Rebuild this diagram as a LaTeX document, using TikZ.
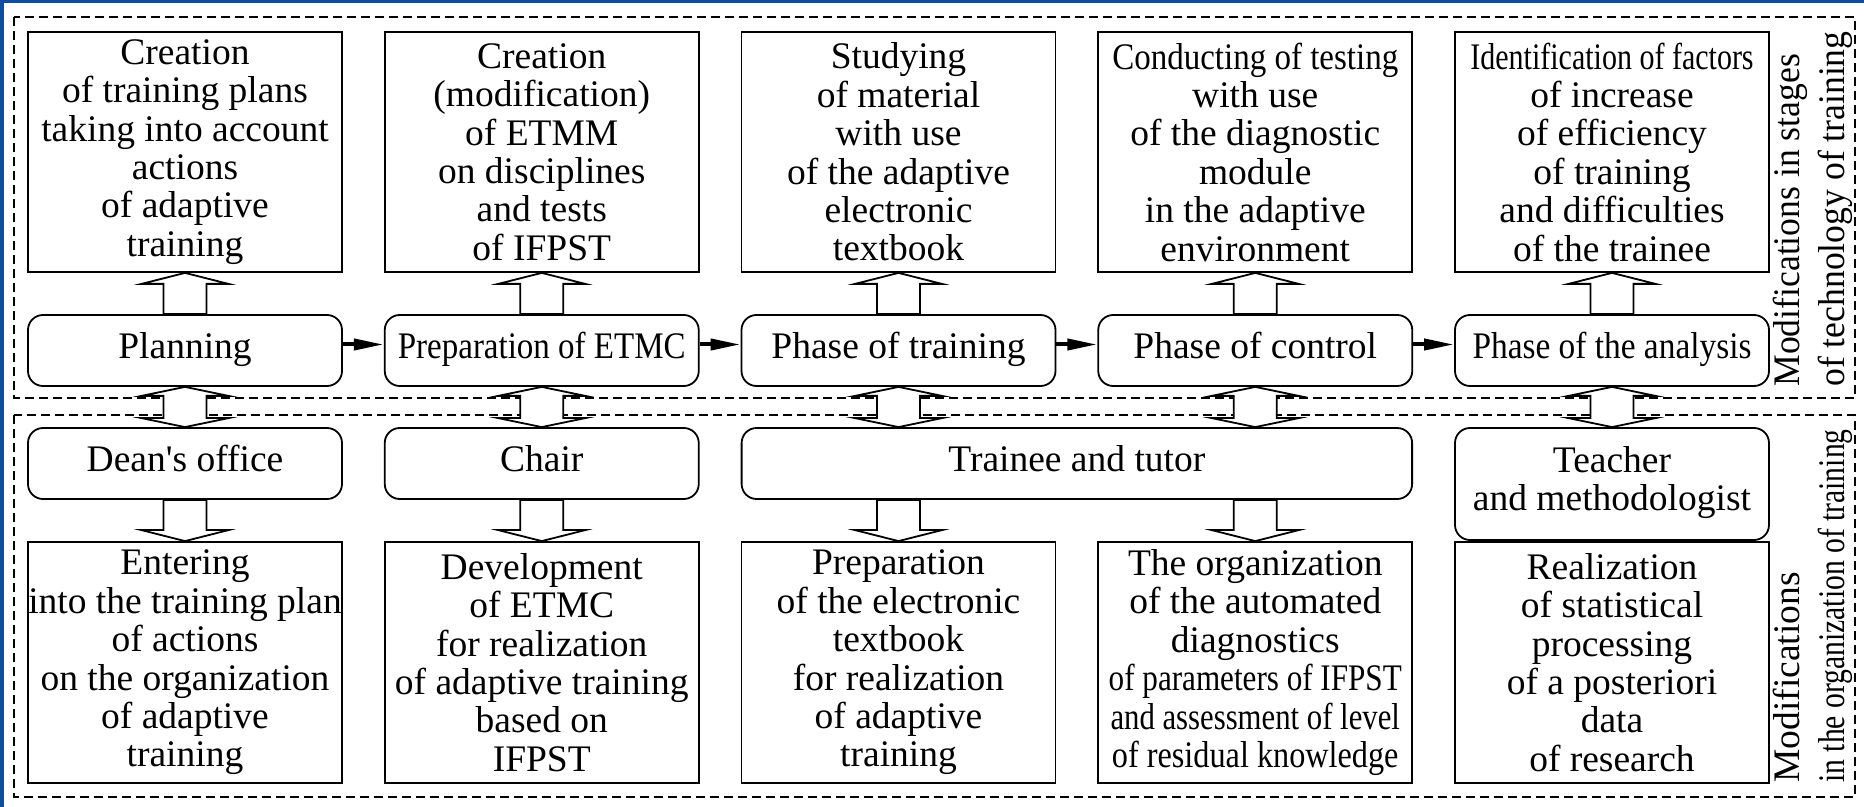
\documentclass[tikz,border=0pt]{standalone}
\usepackage{fontspec}
\setmainfont{Liberation Serif}
\usepackage{graphicx}
\usetikzlibrary{arrows.meta,calc}

% narrow a line horizontally
\newcommand{\squeeze}[2]{\scalebox{#1}[1]{#2}}

\begin{document}
\begin{tikzpicture}[x=0.5pt,y=-0.5pt,
    every node/.style={font=\fontsize{18.75}{19.2}\selectfont, inner sep=0pt, align=center},
    taskbox/.style={draw, line width=0.9pt, minimum width=157pt, minimum height=120pt},
    stagebox/.style={draw, line width=0.9pt, rounded corners=7.5pt, minimum width=157pt, minimum height=35.5pt,
        execute at begin node=\strut},
    hollow/.style={draw, line width=0.9pt, fill=white, line join=miter},
    flow/.style={line width=2pt, -{Triangle[length=15pt,width=5.5pt]}},
    frame/.style={line width=1.4pt, dash pattern=on 4.5pt off 2.5pt},
    sidelabel/.style={rotate=90, anchor=north west, align=left, font=\fontsize{18.75}{22.5}\selectfont}
]

% Define the colors
\definecolor{slideblue}{RGB}{14,78,160}

% Box coordinates and dimensions
\def\colstep{356.75}
\def\shaftw{10.75pt}
\def\headw{21.75pt}
\def\headl{5.5pt}
\def\dheadl{4.5pt}

% hollow arrow, tail #1, tip #2 (vertical)
\newcommand{\hollowarrow}[2]{%
  \path[hollow] let \p1=(#1), \p2=(#2), \n1={ifthenelse(\y2>\y1,1,-1)*\headl} in
    ({\x1-\shaftw},\y1) -- ({\x1-\shaftw},{\y2-\n1}) -- ({\x1-\headw},{\y2-\n1}) -- (\x1,\y2)
    -- ({\x1+\headw},{\y2-\n1}) -- ({\x1+\shaftw},{\y2-\n1}) -- ({\x1+\shaftw},\y1) -- cycle;}
% hollow arrow with heads at both ends
\newcommand{\hollowboth}[2]{%
  \path[hollow] let \p1=(#1), \p2=(#2), \n1={ifthenelse(\y2>\y1,1,-1)*\dheadl} in
    (\x1,\y1) -- ({\x1+\headw},{\y1+\n1}) -- ({\x1+\shaftw},{\y1+\n1})
    -- ({\x1+\shaftw},{\y2-\n1}) -- ({\x1+\headw},{\y2-\n1}) -- (\x1,\y2)
    -- ({\x1-\headw},{\y2-\n1}) -- ({\x1-\shaftw},{\y2-\n1})
    -- ({\x1-\shaftw},{\y1+\n1}) -- ({\x1-\headw},{\y1+\n1}) -- cycle;}

\useasboundingbox (0,0) rectangle (1864,807);

% slide edge
\fill[slideblue] (0,0) rectangle (4,807);
\fill[slideblue] (0,0) rectangle (1864,3);

% Dashed frames
\draw[frame] (14,17) rectangle (1855,398);
\draw[frame] (14,415) rectangle (1855,797);

% Top row: what is done at each stage
\node[taskbox] (task1) at (185+0*\colstep,152) {Creation\\of training plans\\taking into account\\actions\\of adaptive\\training};
\node[taskbox] (task2) at (185+1*\colstep,152) {Creation\\(modification)\\of ETMM\\on disciplines\\and tests\\of IFPST};
\node[taskbox] (task3) at (185+2*\colstep,152) {Studying\\of material\\with use\\of the adaptive\\electronic\\textbook};
\node[taskbox] (task4) at (185+3*\colstep,152) {\squeeze{0.88}{Conducting of testing}\\with use\\of the diagnostic\\module\\in the adaptive\\environment};
\node[taskbox] (task5) at (185+4*\colstep,152) {\squeeze{0.8}{Identification of factors}\\of increase\\of efficiency\\of training\\and difficulties\\of the trainee};

% Stages of the technology
\node[stagebox] (stage1) at (185+0*\colstep,350.5) {Planning};
\node[stagebox] (stage2) at (185+1*\colstep,350.5) {\squeeze{0.88}{Preparation of ETMC}};
\node[stagebox] (stage3) at (185+2*\colstep,350.5) {Phase of training};
\node[stagebox] (stage4) at (185+3*\colstep,350.5) {Phase of control};
\node[stagebox] (stage5) at (185+4*\colstep,350.5) {\squeeze{0.89}{Phase of the analysis}};

% Participants
\node[stagebox] (dean) at (185+0*\colstep,463.5) {Dean\textquotesingle s office};
\node[stagebox] (chair) at (185+1*\colstep,463.5) {Chair};
\node[stagebox, minimum width=335.25pt] (trainee) at (185+2.5*\colstep,463.5) {Trainee and tutor};
\node[stagebox, minimum height=56pt] (teacher) at (185+4*\colstep,484) {Teacher\\and methodologist};

% Bottom row: what the participants do
\node[taskbox, minimum height=120.5pt] (work1) at (185+0*\colstep,662.5) {Entering\\into the training plan\\of actions\\on the organization\\of adaptive\\training};
\node[taskbox, minimum height=120.5pt] (work2) at (185+1*\colstep,662.5) {Development\\of ETMC\\for realization\\of adaptive training\\based on\\IFPST};
\node[taskbox, minimum height=120.5pt] (work3) at (185+2*\colstep,662.5) {Preparation\\of the electronic\\textbook\\for realization\\of adaptive\\training};
\node[taskbox, minimum height=120.5pt] (work4) at (185+3*\colstep,662.5) {The organization\\of the automated\\diagnostics\\\squeeze{0.83}{of parameters of IFPST}\\\squeeze{0.82}{and assessment of level}\\\squeeze{0.86}{of residual knowledge}};
\node[taskbox, minimum height=120.5pt] (work5) at (185+4*\colstep,662.5) {Realization\\of statistical\\processing\\of a posteriori\\data\\of research};

% Side labels
\node[sidelabel] (techlabel) at (1773,387) {\squeeze{0.95}{Modifications in stages}\\\squeeze{0.95}{of technology of training}};
\node[sidelabel] (orglabel) at (1773,783) {Modifications\\\squeeze{0.79}{in the organization of training}};

% Flow between stages
\foreach \i [evaluate=\i as \j using int(\i+1)] in {1,2,3,4} {
    \draw[flow] ([yshift=3pt]stage\i.east) -- ([yshift=3pt]stage\j.west);
}

% Stages up to their tasks
\foreach \i in {1,...,5} {
    \hollowarrow{stage\i.north}{task\i.south}
}

% Stages to participants
\hollowboth{stage1.south}{dean.north}
\hollowboth{stage2.south}{chair.north}
\hollowboth{stage3.south}{trainee.north}
\hollowboth{stage4.south}{trainee.north}
\hollowboth{stage5.south}{teacher.north}

% Participants down to their work
\hollowarrow{dean.south}{work1.north}
\hollowarrow{chair.south}{work2.north}
\hollowarrow{trainee.south -| work3.north}{work3.north}
\hollowarrow{trainee.south -| work4.north}{work4.north}

\end{tikzpicture}
\end{document}
